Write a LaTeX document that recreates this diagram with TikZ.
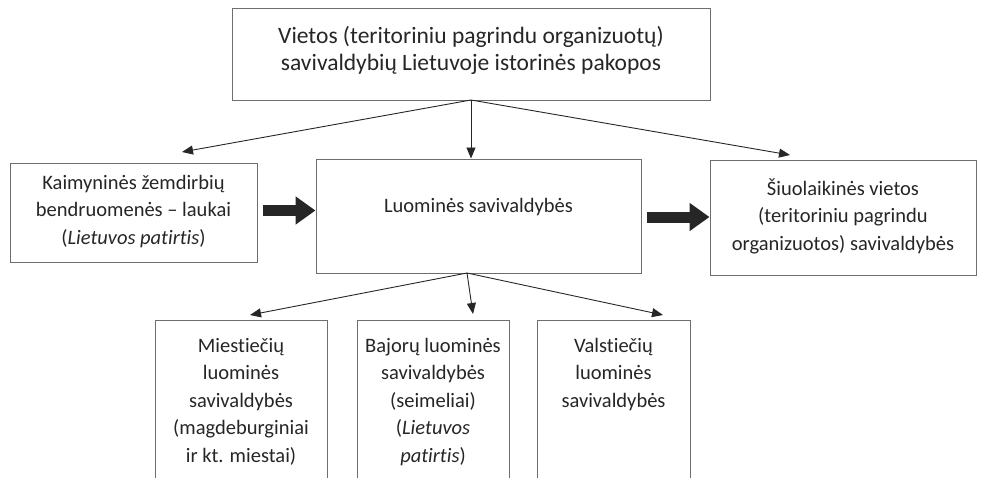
\documentclass[tikz,border=0pt]{standalone}
\usepackage{fontspec}
\setmainfont{Carlito}[Ligatures=NoCommon]
\usetikzlibrary{arrows.meta}
\definecolor{boxline}{HTML}{6E6E6E}
\definecolor{ink}{HTML}{262626}
\newcommand\boxtxt[5][20.5]{\parbox[c][#3][t]{#2}{\fontsize{#1}{27.5}\selectfont\centering\rule{0pt}{#4}#5\par}}
\tikzset{
  box/.style={draw=boxline, line width=1pt, inner sep=0pt, text=ink, fill=white},
  thin/.style={draw=ink, line width=0.9pt, -{Triangle[length=11pt,width=9pt]}},
  fat/.style={draw=ink, line width=11pt, -{Triangle[length=20pt,width=27pt]}},
}
\begin{document}
\begin{tikzpicture}[x=1pt,y=-1pt]
\useasboundingbox (0,0) rectangle (983,477);
\clip (0,0) rectangle (983,477);
\node[box] (top) at (471,54) {\boxtxt[23.5]{478pt}{92pt}{35pt}{Vietos (teritoriniu pagrindu organizuotų)\\savivaldybių Lietuvoje istorinės pakopos}};
\node[box] (left) at (133.5,212.5) {\boxtxt{247pt}{99pt}{26pt}{Kaimyninės žemdirbių\\bendruomenės – laukai\\(\textit{Lietuvos patirtis})}};
\node[box] (mid) at (478.5,216) {\boxtxt{325pt}{114pt}{53pt}{Luominės savivaldybės}};
\node[box] (right) at (843,217.5) {\boxtxt{266pt}{115pt}{35pt}{Šiuolaikinės vietos\\(teritoriniu pagrindu\\organizuotos) savivaldybės}};
\node[box] (b1) at (241,405) {\boxtxt{172pt}{170pt}{32pt}{Miestiečių\\luominės\\savivaldybės\\(magdeburginiai\\ir kt. miestai)}};
\node[box] (b2) at (433,405) {\boxtxt{152pt}{170pt}{32pt}{Bajorų luominės\\savivaldybės\\(seimeliai)\\(\textit{Lietuvos}\\\textit{patirtis})}};
\node[box] (b3) at (613.5,405) {\boxtxt{153pt}{170pt}{32pt}{Valstiečių\\luominės\\savivaldybės}};
\coordinate (o1) at (471,100);
\coordinate (t1) at (182,152);
\coordinate (t3) at (790,155);
\draw[thin] (o1) -- (t1);
\draw[thin] (o1) -- (top.south |- mid.north);
\draw[thin] (o1) -- (t3);
\coordinate (o2) at (467,273);
\coordinate (s1) at (250,315);
\coordinate (s2) at (473,314);
\coordinate (s3) at (663,315);
\draw[thin] (o2) -- (s1);
\draw[thin] (o2) -- (s2);
\draw[thin] (o2) -- (s3);
\coordinate (f1a) at (263,210.5);
\coordinate (f1b) at (mid.west |- f1a);
\coordinate (f2a) at (647,217);
\coordinate (f2b) at (right.west |- f2a);
\draw[fat] (f1a) -- (f1b);
\draw[fat] (f2a) -- (f2b);
\end{tikzpicture}
\end{document}
